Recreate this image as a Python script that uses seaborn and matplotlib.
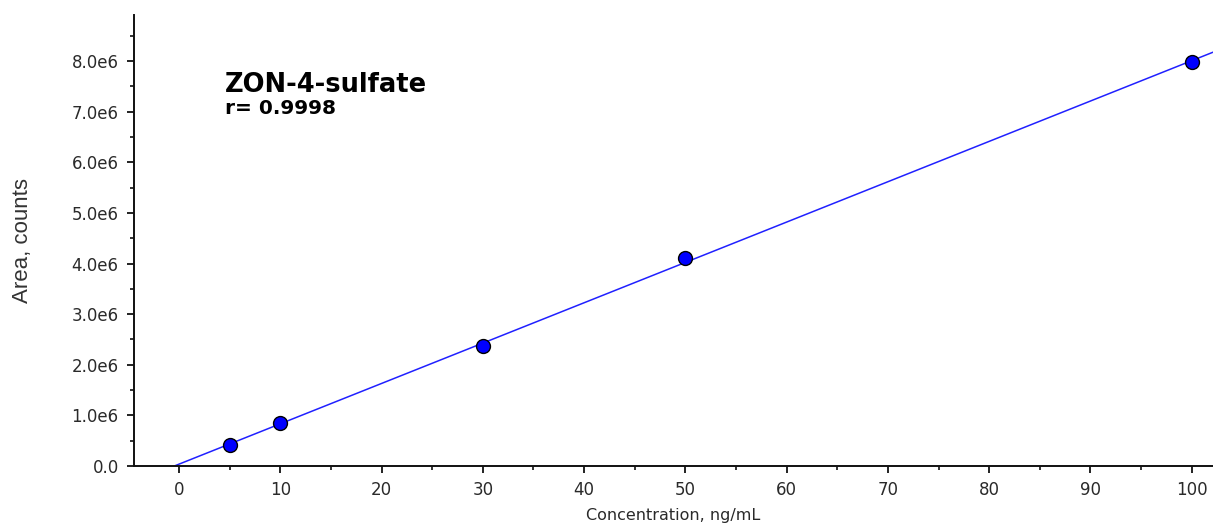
import numpy as np
import pandas as pd
import matplotlib
matplotlib.use("Agg")
import matplotlib.pyplot as plt
from matplotlib.ticker import FuncFormatter, MultipleLocator
import seaborn as sns

# Data
concentration = [5, 10, 30, 50, 100]
area = [0.415e6, 0.85e6, 2.37e6, 4.11e6, 7.98e6]
title_text = "ZON-4-sulfate"
r_text = "r= 0.9998"
x_label = "Concentration, ng/mL"
y_label = "Area, counts"

sns.set_style("ticks")
plt.rcParams['font.family'] = ['DejaVu Sans']

fig = plt.figure(figsize=(12.13, 5.24), dpi=100)
ax = fig.add_axes([134/1213, 58/524, 1 - 134/1213, (466-15)/524])

df = pd.DataFrame({"conc": concentration, "area": area})

xmin, xmax = -4.44, 102.1
slope, intercept = np.polyfit(df["conc"], df["area"], 1)
x0 = -intercept / slope
fit = pd.DataFrame({"conc": [x0, xmax]})
fit["area"] = slope * fit["conc"] + intercept

sns.lineplot(data=fit, x="conc", y="area", ax=ax, color="#2020ff", lw=1.1)
sns.scatterplot(data=df, x="conc", y="area", ax=ax, color="#0000ff",
                edgecolor="black", linewidth=1.0, s=100, zorder=3)

ax.set_xlim(xmin, xmax)
ax.set_ylim(0, 8.91e6)

ax.xaxis.set_major_locator(MultipleLocator(10))
ax.xaxis.set_minor_locator(MultipleLocator(5))
ax.yaxis.set_major_locator(MultipleLocator(1e6))
ax.yaxis.set_minor_locator(MultipleLocator(0.5e6))

def yfmt(v, pos):
    if abs(v) < 1:
        return "0.0"
    return f"{v/1e6:.1f}e6"
ax.yaxis.set_major_formatter(FuncFormatter(yfmt))

for s in ["top", "right"]:
    ax.spines[s].set_visible(False)
for s in ["left", "bottom"]:
    ax.spines[s].set_linewidth(1.4)
    ax.spines[s].set_color("#111111")

ax.tick_params(which="major", length=5, width=1.3, labelsize=12,
               colors="#111111", labelcolor="#2a2a2a", pad=6)
ax.tick_params(which="minor", length=3, width=1.2, colors="#111111")

ax.set_xlabel(x_label, fontsize=11.5, color="#2a2a2a")
ax.set_ylabel(y_label, fontsize=16, color="#333333", family="Liberation Sans")
ax.xaxis.set_label_coords(0.5, -0.093)
ax.yaxis.set_label_coords(-0.0936, 0.5)

ax.text(0.0843, 0.829, title_text, transform=ax.transAxes, fontsize=18.5,
        fontweight="bold", color="black", va="baseline", ha="left")
ax.text(0.0843, 0.780, r_text, transform=ax.transAxes, fontsize=14.5,
        fontweight="bold", color="black", va="baseline", ha="left")

fig.savefig("out.png", dpi=100)
